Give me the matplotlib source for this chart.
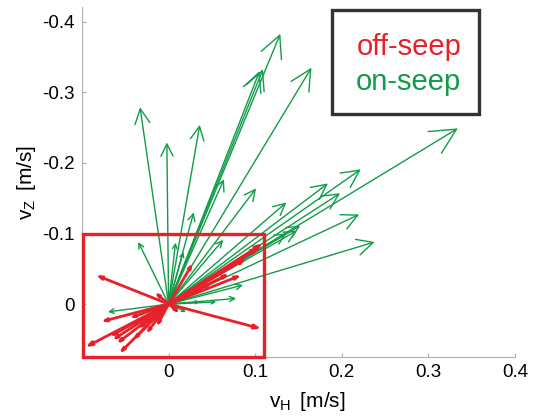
import numpy as np
import matplotlib
matplotlib.use("Agg")
import matplotlib.pyplot as plt
from matplotlib.patches import Rectangle

plt.rcParams["font.family"] = ["Liberation Sans", "DejaVu Sans"]
plt.rcParams["mathtext.fontset"] = "custom"
plt.rcParams["mathtext.rm"] = "Liberation Sans"
plt.rcParams["axes.unicode_minus"] = False

# on-seep velocity vectors (v_H, v_Z) in m/s, all starting at the origin
on_vh = [0.129, 0.109, 0.105, 0.165, -0.033, -0.002, 0.036, 0.064, 0.101, 0.029,
         0.184, 0.136, 0.198, 0.334, 0.222, 0.220, 0.152, 0.148, 0.238, 0.136,
         -0.035, 0.008, 0.017, 0.063, -0.070, 0.055, 0.020, 0.086, 0.078, 0.036]
on_vz = [-0.383, -0.333, -0.330, -0.335, -0.279, -0.229, -0.254, -0.177, -0.164, -0.130,
         -0.171, -0.144, -0.157, -0.249, -0.191, -0.127, -0.111, -0.104, -0.088, -0.100,
         -0.088, -0.087, -0.074, -0.091, 0.011, -0.003, 0.011, -0.027, -0.008, -0.003]

# off-seep velocity vectors
off_vh = [-0.084, 0.107, -0.096, -0.057, -0.078, -0.068, -0.065, -0.060, -0.041, -0.026,
          -0.014, -0.016, 0.028, 0.109, 0.105, 0.084, 0.070, 0.090, 0.013, -0.045,
          -0.035, 0.050]
off_vz = [-0.041, 0.035, 0.061, 0.070, 0.025, 0.046, 0.051, 0.056, 0.051, 0.042,
          0.032, -0.017, -0.058, -0.086, -0.081, -0.041, -0.043, -0.065, 0.013, 0.020,
          0.035, -0.030]

xticks = [0, 0.1, 0.2, 0.3, 0.4]
xlabels = ["0", "0.1", "0.2", "0.3", "0.4"]
yticks = [-0.4, -0.3, -0.2, -0.1, 0]
ylabels = ["-0.4", "-0.3", "-0.2", "-0.1", "0"]

RED = "#e8202a"
GREEN = "#109c48"

fig = plt.figure(figsize=(5.36, 4.16), dpi=100)
ax = fig.add_axes([82 / 536, 1 - 357 / 416, 433 / 536, 350 / 416])
ax.set_xlim(-0.1, 0.4)
ax.set_ylim(0.075, -0.421)

for side in ["top", "right"]:
    ax.spines[side].set_visible(False)
for side in ["left", "bottom"]:
    ax.spines[side].set_color("#b0b0b0")
    ax.spines[side].set_linewidth(0.8)
ax.tick_params(direction="in", length=3, width=0.8, color="#b0b0b0",
               labelsize=13.5, pad=5)
ax.set_xticks(xticks)
ax.set_xticklabels(xlabels)
ax.set_yticks(yticks)
ax.set_yticklabels(ylabels)
ax.set_xlabel(r"v$_\mathrm{H}\,$ [m/s]", fontsize=15, labelpad=3)
ax.set_ylabel(r"v$_\mathrm{Z}\,$ [m/s]", fontsize=15, labelpad=3)
ax.xaxis.set_label_coords(0.52, -0.095)


def draw_arrows(us, vs, color, lw, frac, ratio):
    p0 = ax.transData.transform((0, 0))
    for u, v in zip(us, vs):
        p1 = ax.transData.transform((u, v))
        length_px = np.hypot(*(p1 - p0))
        hl = max(frac * length_px, 3) * 0.72  # points
        hw = hl * ratio
        ax.annotate("", xy=(u, v), xytext=(0, 0),
                    arrowprops=dict(arrowstyle=f"->,head_length={hl},head_width={hw}",
                                    color=color, lw=lw, shrinkA=0, shrinkB=0,
                                    mutation_scale=1))


draw_arrows(on_vh, on_vz, GREEN, 1.0, 0.075, 0.5)
draw_arrows(off_vh, off_vz, RED, 2.0, 0.05, 0.35)

# red box around the off-seep cluster
ax.add_patch(Rectangle((-0.099, -0.1), 0.209, 0.175, fill=False,
                       edgecolor=RED, lw=2.4, clip_on=False, zorder=5))

# legend box
fig.patches.append(Rectangle((332 / 536, 1 - 114 / 416), 147 / 536, 104 / 416,
                             transform=fig.transFigure, fill=False,
                             edgecolor="#333333", lw=2.4))
fig.text(409 / 536, 1 - 47 / 416, "off-seep", color=RED, fontsize=21,
         ha="center", va="center")
fig.text(408 / 536, 1 - 82 / 416, "on-seep", color=GREEN, fontsize=21,
         ha="center", va="center")

fig.savefig("out.png", dpi=100)
